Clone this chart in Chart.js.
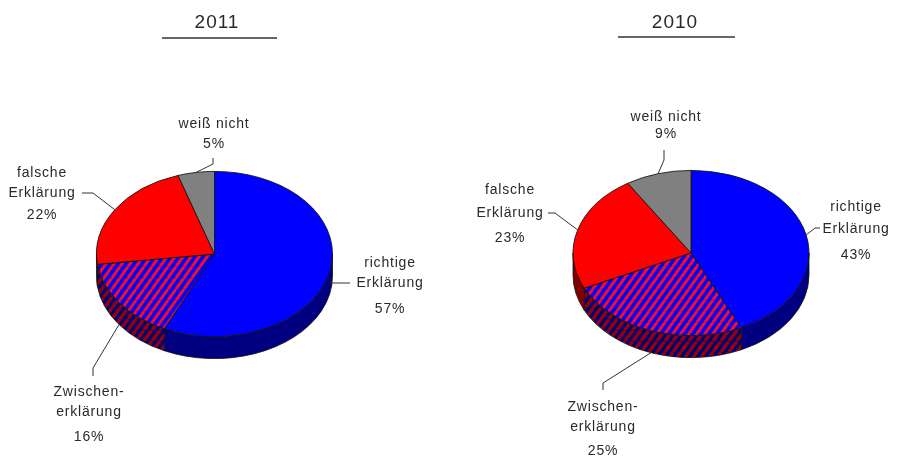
<!DOCTYPE html>
<html>
<head>
<meta charset="utf-8">
<script src="https://cdn.jsdelivr.net/npm/chart.js@4.4.1/dist/chart.umd.min.js"></script>
<style>
  body { margin: 0; background: #fff; }
  #wrap { display: flex; width: 898px; height: 465px; }
  canvas { display: block; }
</style>
</head>
<body>
<div id="wrap">
  <canvas id="c2011" width="449" height="465"></canvas>
  <canvas id="c2010" width="449" height="465"></canvas>
</div>
<script>
// data
const years = ['2011', '2010'];
const categories = ['richtige Erklärung', 'Zwischenerklärung', 'falsche Erklärung', 'weiß nicht'];
const labelLines = [['richtige', 'Erklärung'], ['Zwischen-', 'erklärung'], ['falsche', 'Erklärung'], ['weiß nicht']];
const values2011 = [57, 16, 22, 5];
const values2010 = [43, 25, 23, 9];

function stripes(bg, fg, w, h, lw) {
  const c = document.createElement('canvas');
  c.width = w; c.height = h;
  const g = c.getContext('2d');
  g.fillStyle = bg;
  g.fillRect(0, 0, w, h);
  g.strokeStyle = fg;
  g.lineWidth = lw;
  for (const dx of [-w, 0, w]) {
    g.beginPath(); g.moveTo(dx, h); g.lineTo(dx + w, 0); g.stroke();
  }
  return g.createPattern(c, 'repeat');
}

const TILT = 0.7, DEPTH = 22;
const topColors = ['#0000ff', stripes('#0000ff', '#f0102a', 8, 16, 3.4), '#ff0000', '#808080'];
const sideColors = ['#000080', stripes('#000070', '#900010', 8, 11, 3.4), '#800000', '#505050'];

// flat pie -> tilted ellipse with a side wall
const pie3d = {
  id: 'pie3d',
  beforeDatasetsDraw(chart, args, o) {
    const ctx = chart.ctx;
    const meta = chart.getDatasetMeta(0);
    const a = meta.data[0];
    ctx.save();
    ctx.lineWidth = 0.8;
    ctx.strokeStyle = '#111';
    meta.data.forEach((arc, i) => {
      const a0 = Math.max(arc.startAngle, 0), a1 = Math.min(arc.endAngle, Math.PI);
      if (a0 >= a1) return;
      const r = arc.outerRadius;
      ctx.beginPath();
      ctx.ellipse(arc.x, arc.y, r, r * o.tilt, 0, a0, a1, false);
      ctx.ellipse(arc.x, arc.y + o.depth, r, r * o.tilt, 0, a1, a0, true);
      ctx.closePath();
      ctx.fillStyle = o.sideColors[i];
      ctx.fill();
      ctx.stroke();
    });
    ctx.restore();
    ctx.save();
    ctx.translate(a.x, a.y);
    ctx.scale(1, o.tilt);
    ctx.translate(-a.x, -a.y);
  },
  afterDatasetsDraw(chart) {
    chart.ctx.restore();
  },
  afterDraw(chart, args, o) {
    const ctx = chart.ctx;
    const meta = chart.getDatasetMeta(0);
    const vals = chart.data.datasets[0].data;
    ctx.save();
    // title with rule
    ctx.fillStyle = '#2a2a2a';
    ctx.font = '19px "Liberation Sans", Arial, sans-serif';
    ctx.letterSpacing = '1px';
    ctx.textAlign = 'center';
    ctx.textBaseline = 'middle';
    ctx.fillText(o.title.text, o.title.x, o.title.y);
    ctx.strokeStyle = '#666';
    ctx.lineWidth = 2;
    ctx.beginPath();
    ctx.moveTo(o.title.x0, o.title.ly);
    ctx.lineTo(o.title.x1, o.title.ly);
    ctx.stroke();
    // slice labels with leader lines
    ctx.font = '14px "Liberation Sans", Arial, sans-serif';
    ctx.letterSpacing = '0.8px';
    ctx.strokeStyle = '#333';
    ctx.lineWidth = 1;
    o.labels.forEach((L, i) => {
      const arc = meta.data[i];
      const mid = (arc.startAngle + arc.endAngle) / 2;
      const sx = arc.x + arc.outerRadius * Math.cos(mid);
      const sy = arc.y + arc.outerRadius * o.tilt * Math.sin(mid) + (L.drop || 0) * o.depth;
      ctx.beginPath();
      ctx.moveTo(sx, sy);
      L.path.forEach(p => ctx.lineTo(p[0], p[1]));
      ctx.stroke();
      const lines = labelLines[i].concat([vals[i] + '%']);
      lines.forEach((t, j) => ctx.fillText(t, L.x, L.ys[j]));
    });
    ctx.restore();
  }
};

function makePie(id, year, values, padding, title, labels) {
  return new Chart(document.getElementById(id).getContext('2d'), {
    type: 'pie',
    data: {
      labels: categories,
      datasets: [{
        data: values,
        backgroundColor: topColors,
        borderColor: '#111',
        borderWidth: 1
      }]
    },
    options: {
      responsive: false,
      animation: false,
      events: [],
      layout: { padding: padding },
      plugins: {
        legend: { display: false },
        tooltip: { enabled: false },
        pie3d: { tilt: TILT, depth: DEPTH, sideColors: sideColors, title: Object.assign({ text: year }, title), labels: labels }
      }
    },
    plugins: [pie3d]
  });
}

makePie('c2011', years[0], values2011,
  { left: 96, right: 116, top: 135.5, bottom: 92.5 },
  { x: 217, y: 23, x0: 162, x1: 277, ly: 38 },
  [
    { x: 390, ys: [263, 283, 309], drop: 0.5, path: [[350, 283]] },
    { x: 89, ys: [392, 412, 437], drop: 1, path: [[93, 368], [93, 376]] },
    { x: 42, ys: [173, 193, 215], drop: 0, path: [[93, 193], [82, 193]] },
    { x: 214, ys: [124, 144], drop: 0, path: [[213, 164], [213, 158]] }
  ]);

makePie('c2010', years[1], values2010,
  { left: 123.5, right: 88.5, top: 134.5, bottom: 93.5 },
  { x: 226, y: 23, x0: 169, x1: 286, ly: 37 },
  [
    { x: 407, ys: [207, 229, 255], drop: 0, path: [[366, 228], [371, 228]] },
    { x: 154, ys: [407, 427, 451], drop: 1, path: [[154, 383], [154, 390]] },
    { x: 61, ys: [190, 213, 238], drop: 0, path: [[106, 213], [99, 213]] },
    { x: 217, ys: [117, 134], drop: 0, path: [[215, 160], [215, 150]] }
  ]);
</script>
</body>
</html>
